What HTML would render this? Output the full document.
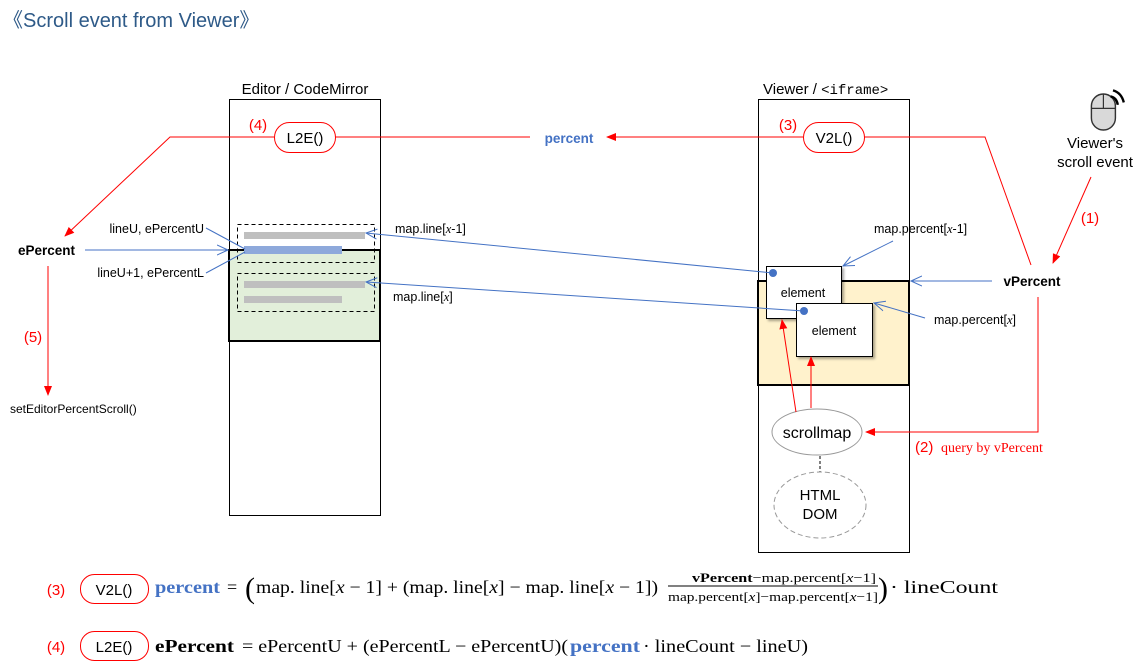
<!DOCTYPE html>
<html><head><meta charset="utf-8"><style>
html,body{margin:0;padding:0;background:#fff;}
svg{display:block;}
text{font-family:"Liberation Sans",sans-serif;}
.s{font-family:"Liberation Serif",serif;}
</style></head><body>
<svg width="1141" height="666" viewBox="0 0 1141 666" xmlns="http://www.w3.org/2000/svg">
<defs>
<marker id="ar" markerWidth="10" markerHeight="10" refX="9" refY="5" orient="auto" markerUnits="userSpaceOnUse"><path d="M0,1 L10,5 L0,9 z" fill="#f00"/></marker>
<marker id="ab" markerWidth="12" markerHeight="12" refX="11" refY="6" orient="auto" markerUnits="userSpaceOnUse"><path d="M0,1 L11,6 L0,11" fill="none" stroke="#4472C4" stroke-width="1"/></marker>
<filter id="sh" x="-10%" y="-10%" width="130%" height="130%"><feDropShadow dx="2" dy="2" stdDeviation="1.2" flood-color="#000" flood-opacity="0.35"/></filter>
</defs>

<text x="3" y="27" font-size="20" fill="#2E5A88">《Scroll event from Viewer》</text>

<!-- Editor -->
<text x="305" y="94" font-size="15" text-anchor="middle">Editor / CodeMirror</text>
<rect x="229.5" y="99.5" width="151" height="416" fill="#fff" stroke="#000"/>
<rect x="229" y="250" width="151" height="91" fill="#E2EFDA" stroke="#000" stroke-width="2"/>
<rect x="237.5" y="224.5" width="137" height="38" fill="none" stroke="#000" stroke-dasharray="4,3"/>
<rect x="237.5" y="273.5" width="137" height="38" fill="none" stroke="#000" stroke-dasharray="4,3"/>
<rect x="244" y="232" width="121" height="7" fill="#BFBFBF"/>
<rect x="244" y="246" width="98" height="8" fill="#8EA9DB"/>
<rect x="244" y="281" width="121" height="7" fill="#BFBFBF"/>
<rect x="244" y="296" width="98" height="7" fill="#BFBFBF"/>

<!-- Viewer -->
<text x="763" y="94" font-size="15">Viewer / <tspan font-family="Liberation Mono,monospace" font-size="14">&lt;iframe&gt;</tspan></text>
<rect x="758.5" y="99.5" width="151" height="453" fill="#fff" stroke="#000"/>
<rect x="758" y="281" width="151" height="104" fill="#FFF2CC" stroke="#000" stroke-width="2"/>
<rect x="766.5" y="266.5" width="75" height="52" fill="#fff" stroke="#000" filter="url(#sh)"/>
<circle cx="773" cy="273" r="4" fill="#4472C4"/>
<text x="803" y="297" font-size="12.5" text-anchor="middle">element</text>
<rect x="796.5" y="303.5" width="76" height="53" fill="#fff" stroke="#000" filter="url(#sh)"/>
<circle cx="804" cy="311" r="4" fill="#4472C4"/>
<text x="834" y="335" font-size="12.5" text-anchor="middle">element</text>

<ellipse cx="817" cy="432" rx="45" ry="23" fill="#fff" stroke="#999"/>
<text x="817" y="438" font-size="16" text-anchor="middle">scrollmap</text>
<line x1="820" y1="456" x2="820" y2="472" stroke="#000" stroke-dasharray="3,2"/>
<ellipse cx="820" cy="505" rx="46" ry="33" fill="#fff" stroke="#999" stroke-dasharray="5,3"/>
<text x="820" y="500" font-size="15" text-anchor="middle">HTML</text>
<text x="820" y="519" font-size="15" text-anchor="middle">DOM</text>

<!-- red flow top -->
<line x1="335" y1="137" x2="530" y2="137" stroke="#f00"/>
<line x1="803" y1="137" x2="607" y2="137" stroke="#f00" marker-end="url(#ar)"/>
<text x="569" y="143" font-size="13.5" font-weight="bold" fill="#4472C4" text-anchor="middle">percent</text>
<polyline points="274,137 170,137 65,236" fill="none" stroke="#f00" marker-end="url(#ar)"/>
<polyline points="864,137 985,137 1031,265" fill="none" stroke="#f00"/>
<rect x="274.5" y="122.5" width="61" height="30" rx="15" fill="#fff" stroke="#f00"/>
<text x="305" y="143" font-size="15" text-anchor="middle">L2E()</text>
<text x="258" y="130" font-size="15" fill="#f00" text-anchor="middle">(4)</text>
<rect x="803.5" y="122.5" width="61" height="30" rx="15" fill="#fff" stroke="#f00"/>
<text x="834" y="143" font-size="15" text-anchor="middle">V2L()</text>
<text x="788" y="130" font-size="15" fill="#f00" text-anchor="middle">(3)</text>

<!-- mouse -->
<g transform="translate(1089,88) scale(1.2)">
<rect x="2" y="5" width="20" height="30" rx="10" fill="#D9D9D9" stroke="#333" stroke-width="1.2"/>
<line x1="2" y1="17" x2="22" y2="17" stroke="#333"/>
<line x1="12" y1="5" x2="12" y2="17" stroke="#333"/>
<path d="M20,2 Q27,4 29,12" fill="none" stroke="#000" stroke-width="2"/>
<path d="M18,7 Q23,8 24,14" fill="none" stroke="#000" stroke-width="2"/>
</g>
<text x="1095" y="148" font-size="15" text-anchor="middle">Viewer's</text>
<text x="1095" y="167" font-size="15" text-anchor="middle">scroll event</text>
<line x1="1091" y1="177" x2="1053" y2="263" stroke="#f00" marker-end="url(#ar)"/>
<text x="1090" y="223" font-size="15" fill="#f00" text-anchor="middle">(1)</text>

<text x="1032" y="286" font-size="13.5" font-weight="bold" text-anchor="middle">vPercent</text>
<line x1="992" y1="281" x2="911" y2="281" stroke="#4472C4" marker-end="url(#ab)"/>
<polyline points="1038,297 1038,432 866,432" fill="none" stroke="#f00" marker-end="url(#ar)"/>
<text x="915" y="452" font-size="15" fill="#f00">(2)</text>
<text x="941" y="452" font-size="14" fill="#f00" class="s">query by vPercent</text>
<line x1="796" y1="412" x2="782" y2="320" stroke="#f00" marker-end="url(#ar)"/>
<line x1="811" y1="408" x2="811" y2="357" stroke="#f00" marker-end="url(#ar)"/>

<!-- blue connectors -->
<line x1="773" y1="273" x2="366" y2="233" stroke="#4472C4" marker-end="url(#ab)"/>
<line x1="804" y1="311" x2="366" y2="282" stroke="#4472C4" marker-end="url(#ab)"/>
<text x="395" y="233" font-size="12.5">map.line[<tspan class="s" font-style="italic">x</tspan>-1]</text>
<text x="393" y="301" font-size="12.5">map.line[<tspan class="s" font-style="italic">x</tspan>]</text>
<text x="874" y="233" font-size="12.5">map.percent[<tspan class="s" font-style="italic">x</tspan>-1]</text>
<line x1="893" y1="241" x2="843" y2="266" stroke="#4472C4" marker-end="url(#ab)"/>
<text x="934" y="324" font-size="12.5">map.percent[<tspan class="s" font-style="italic">x</tspan>]</text>
<line x1="925" y1="318" x2="874" y2="303" stroke="#4472C4" marker-end="url(#ab)"/>

<text x="18" y="255" font-size="13.5" font-weight="bold">ePercent</text>
<line x1="85" y1="250" x2="228" y2="250" stroke="#4472C4" marker-end="url(#ab)"/>
<text x="204" y="233" font-size="12.5" text-anchor="end">lineU, ePercentU</text>
<line x1="206" y1="228" x2="245" y2="249" stroke="#4472C4"/>
<text x="204" y="277" font-size="12.5" text-anchor="end">lineU+1, ePercentL</text>
<line x1="206" y1="273" x2="245" y2="252" stroke="#4472C4"/>
<line x1="48" y1="266" x2="48" y2="395" stroke="#f00" marker-end="url(#ar)"/>
<text x="33" y="342" font-size="15" fill="#f00" text-anchor="middle">(5)</text>
<text x="10" y="413" font-size="12">setEditorPercentScroll()</text>

<!-- formulas -->
<text x="56" y="595" font-size="15" fill="#f00" text-anchor="middle">(3)</text>
<rect x="80.5" y="574.5" width="68" height="29" rx="14" fill="#fff" stroke="#f00"/>
<text x="114" y="595" font-size="15" text-anchor="middle">V2L()</text>
<text x="155" y="593" font-size="18" font-weight="bold" fill="#4472C4" class="s" textLength="65" lengthAdjust="spacingAndGlyphs">percent</text>
<text x="227" y="593" font-size="18" class="s">=</text>
<text x="245" y="598" font-size="30" class="s">(</text>
<text x="256" y="593" font-size="18" class="s" textLength="402" lengthAdjust="spacingAndGlyphs">map. line[<tspan font-style="italic">x</tspan> − 1] + (map. line[<tspan font-style="italic">x</tspan>] − map. line[<tspan font-style="italic">x</tspan> − 1])</text>
<text x="692" y="582" font-size="13" class="s" textLength="184" lengthAdjust="spacingAndGlyphs"><tspan font-weight="bold">vPercent</tspan>−map.percent[<tspan font-style="italic">x</tspan>−1]</text>
<line x1="668" y1="586" x2="878" y2="586" stroke="#000"/>
<text x="668" y="601" font-size="13" class="s" textLength="210" lengthAdjust="spacingAndGlyphs">map.percent[<tspan font-style="italic">x</tspan>]−map.percent[<tspan font-style="italic">x</tspan>−1]</text>
<text x="878" y="598" font-size="30" class="s">)</text>
<text x="890" y="593" font-size="18" class="s" textLength="108" lengthAdjust="spacingAndGlyphs">· lineCount</text>

<text x="56" y="652" font-size="15" fill="#f00" text-anchor="middle">(4)</text>
<rect x="80.5" y="631.5" width="68" height="29" rx="14" fill="#fff" stroke="#f00"/>
<text x="114" y="652" font-size="15" text-anchor="middle">L2E()</text>
<text x="155" y="652" font-size="18" font-weight="bold" class="s" textLength="79" lengthAdjust="spacingAndGlyphs">ePercent</text>
<text x="242" y="652" font-size="18" class="s" textLength="326" lengthAdjust="spacingAndGlyphs">= ePercentU + (ePercentL − ePercentU)(</text>
<text x="570" y="652" font-size="18" font-weight="bold" fill="#4472C4" class="s" textLength="70" lengthAdjust="spacingAndGlyphs">percent</text>
<text x="643" y="652" font-size="18" class="s" textLength="165" lengthAdjust="spacingAndGlyphs">· lineCount  − lineU)</text>
</svg>
</body></html>
